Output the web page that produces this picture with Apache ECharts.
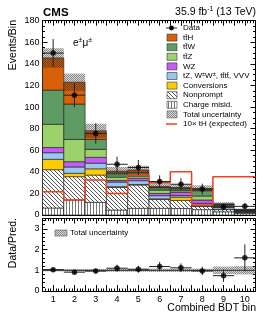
<!DOCTYPE html>
<html><head><meta charset="utf-8">
<script src="https://cdn.jsdelivr.net/npm/echarts@6/dist/echarts.min.js"></script>
<style>html,body{margin:0;padding:0;background:#fff}#c{width:266px;height:322px}</style>
</head><body><div id="c"></div>
<script>
// ---- data ----
const bins = [1,2,3,4,5,6,7,8,9,10];
const chargeMisid = [6.5,13.9,11.7,4.6,6.2,6.2,6.0,5.0,3.0,1.5];
const nonprompt   = [35.5,21.6,25.3,21.0,21.6,8.3,7.5,3.0,2.0,1.0];
const conversions = [9.6,3.1,5.8,0.6,0.5,0.5,3.0,0.5,0.3,0.1];
const rare        = [6.1,5.9,5.2,4.3,3.5,2.9,1.5,2.3,1.7,0.6];
const wz          = [4.8,4.9,5.4,1.5,2.2,2.1,3.0,3.1,1.0,0.4];
const ttz         = [21.5,20.6,7.4,3.1,2.0,3.0,1.5,3.7,1.0,0.6];
const ttw         = [31.7,32.8,9.2,3.7,3.2,2.5,2.0,5.4,0.8,0.6];
const tth         = [29.8,20.2,8.0,1.8,2.5,1.0,1.0,1.5,0.5,0.2];
const totalUnc    = [9,8,6.5,4,4,3,3,3,1.5,1];
const dataVals    = [150,111,75.5,47,44,31,28.5,24,7.5,8];
const dataErr     = [13,11,9.5,7,7,5.8,5.5,5,3,3];
const tH10        = [21.6,13.8,32.4,20,37,29.8,40,9.3,35.5,35.5];
const ratioVals   = [1.03,0.91,0.96,1.1,1.05,1.18,1.12,0.97,0.74,1.6];
const ratioErr    = [0.09,0.09,0.12,0.17,0.17,0.22,0.21,0.2,0.3,0.65];
const ratioUnc    = [0.05,0.05,0.06,0.07,0.07,0.08,0.08,0.08,0.18,0.2];
const yTicksTop   = [0,20,40,60,80,100,120,140,160,180];
const yTicksRatio = [0,1,2,3];

// ---- patterns ----
function pat(w,h,draw){const c=document.createElement('canvas');c.width=w;c.height=h;const g=c.getContext('2d');draw(g);return {image:c,repeat:'repeat'};}
const hatchNP = pat(4,4,g=>{g.fillStyle='#fff';g.fillRect(0,0,4,4);g.fillStyle='#555';for(let i=0;i<4;i++)g.fillRect(i,i,1,1);});
const stripeCM = pat(3,3,g=>{g.fillStyle='#fff';g.fillRect(0,0,3,3);g.fillStyle='#777';g.fillRect(0,0,1,3);});
const crossUnc = pat(2,2,g=>{g.fillStyle='rgba(40,40,40,0.55)';g.fillRect(0,0,1,1);g.fillRect(1,1,1,1);g.fillStyle='rgba(40,40,40,0.18)';g.fillRect(1,0,1,1);g.fillRect(0,1,1,1);});

const fills = [stripeCM, hatchNP, '#ffcc00', '#98c7f2', '#c65bf5', '#9cd26c', '#5e9c64', '#d9600b'];
const comps = [chargeMisid, nonprompt, conversions, rare, wz, ttz, ttw, tth];

const stackData = [];
bins.forEach((b,i)=>{let cum=0;comps.forEach((c,k)=>{stackData.push([b,cum,cum+c[i],k]);cum+=c[i];});});
const totals = bins.map((b,i)=>comps.reduce((s,c)=>s+c[i],0));
const uncData = bins.map((b,i)=>[b,totals[i]-totalUnc[i],totals[i]+totalUnc[i]]);
const ratioUncData = bins.map((b,i)=>[b,1-ratioUnc[i],1+ratioUnc[i]]);
const dataPts = bins.map((b,i)=>[b,dataVals[i],dataErr[i]]);
const ratioPts = bins.map((b,i)=>[b,ratioVals[i],ratioErr[i]]);
const stepData = bins.map((b,i)=>[b-0.5,tH10[i]]).concat([[bins[bins.length-1]+0.5,tH10[tH10.length-1]]]);

const chart = echarts.init(document.getElementById('c'),null,{renderer:'canvas'});
const FONT = 'Liberation Sans';
function xAx(grid,pos,labels){return {type:'value',gridIndex:grid,position:pos,min:0.5,max:10.5,interval:0.5,
  axisLine:{show:true,onZero:false,lineStyle:{color:'#000',width:1}},
  axisTick:{show:true,inside:true,length:pos==='bottom'&&grid===1?6:5,lineStyle:{color:'#000'}},
  minorTick:{show:true,splitNumber:4,length:2.5,lineStyle:{color:'#000'}},
  splitLine:{show:false},
  axisLabel:{show:labels,margin:4,fontFamily:FONT,fontSize:9,color:'#000',formatter:v=>Number.isInteger(v)?String(v):''}};}
function yAx(grid,pos,min,max,iv,labels,minorN){return {type:'value',gridIndex:grid,position:pos,min:min,max:max,interval:iv,
  axisLine:{show:true,onZero:false,lineStyle:{color:'#000',width:1}},
  axisTick:{show:true,inside:true,length:5,lineStyle:{color:'#000'}},
  minorTick:{show:true,splitNumber:minorN,length:2.5,lineStyle:{color:'#000'}},
  splitLine:{show:false},
  axisLabel:{show:labels,margin:3,fontFamily:FONT,fontSize:9,color:'#000',formatter:v=>Number.isInteger(v)?String(v):''}};}

function rectItem(api,x0,x1,y0,y1,style){const p0=api.coord([x0,y1]);const p1=api.coord([x1,y0]);
  return {type:'rect',shape:{x:p0[0],y:p0[1],width:p1[0]-p0[0],height:p1[1]-p0[1]},style:style};}
function errItem(api){const b=api.value(0),v=api.value(1),e=api.value(2);
  const c=api.coord([b,v]),t=api.coord([b,v+e]),d=api.coord([b,v-e]),l=api.coord([b-0.5,v]),r=api.coord([b+0.5,v]);
  const st={stroke:'#222',lineWidth:1};
  return {type:'group',children:[
    {type:'line',shape:{x1:c[0],y1:t[1],x2:c[0],y2:d[1]},style:st},
    {type:'line',shape:{x1:l[0],y1:c[1],x2:r[0],y2:c[1]},style:st}]};}

const legendRows = [
  {t:'Data',k:'data'},
  {t:'t{b|t\u0304}H',k:7},{t:'t{b|t\u0304}W',k:6},{t:'t{b|t\u0304}Z',k:5},{t:'WZ',k:4},
  {t:'tZ, W{s|±}W{s|±}, t{b|t\u0304}t{b|t\u0304}, VVV',k:3},
  {t:'Conversions',k:2},{t:'Nonprompt',k:1},{t:'Charge misid.',k:0},
  {t:'Total uncertainty',k:'unc'},{t:'10× tH (expected)',k:'red'}];
const gEls=[];
legendRows.forEach((r,i)=>{const y=28+9.6*i;
  if(r.k==='data'){gEls.push({type:'line',shape:{x1:166,y1:y,x2:177,y2:y},style:{stroke:'#222',lineWidth:1}});
    gEls.push({type:'circle',shape:{cx:171.5,cy:y,r:2.4},style:{fill:'#000'}});}
  else if(r.k==='red'){gEls.push({type:'line',shape:{x1:166,y1:y,x2:177,y2:y},style:{stroke:'#f0401c',lineWidth:1.5}});}
  else if(r.k==='unc'){gEls.push({type:'rect',shape:{x:167,y:y-3.5,width:10,height:7},style:{fill:crossUnc,stroke:'#555',lineWidth:0.6}});}
  else {gEls.push({type:'rect',shape:{x:167,y:y-3.5,width:10,height:7},style:{fill:fills[r.k],stroke:'#333',lineWidth:0.6}});}
  gEls.push({type:'text',x:183,y:y,style:{text:r.t,fontFamily:FONT,fontSize:8,fill:'#000',verticalAlign:'middle',
    rich:{s:{fontSize:5.5,verticalAlign:'top',padding:[0,0,4,0],fontFamily:FONT},b:{fontSize:8,fontFamily:FONT}}}});
});
gEls.push({type:'text',x:43,y:18.5,style:{text:'CMS',fontFamily:FONT,fontSize:11.5,fontWeight:'bold',fill:'#000',verticalAlign:'bottom'}});
gEls.push({type:'text',x:256,y:18.5,style:{text:'35.9 fb{s|-1} (13 TeV)',fontFamily:FONT,fontSize:10.5,fill:'#000',align:'right',verticalAlign:'bottom',
  rich:{s:{fontSize:7,padding:[0,0,6,0],fontFamily:FONT}}}});
gEls.push({type:'text',x:73,y:43,style:{text:'e{s|±}μ{s|±}',fontFamily:FONT,fontSize:10,fill:'#000',verticalAlign:'middle',
  rich:{s:{fontSize:7,padding:[0,0,6,0],fontFamily:FONT}}}});
gEls.push({type:'text',x:13,y:20,rotation:Math.PI/2,style:{text:'Events/Bin',fontFamily:FONT,fontSize:10.5,fill:'#000',align:'right',verticalAlign:'middle'}});
gEls.push({type:'text',x:13,y:218,rotation:Math.PI/2,style:{text:'Data/Pred.',fontFamily:FONT,fontSize:10.5,fill:'#000',align:'right',verticalAlign:'middle'}});
gEls.push({type:'text',x:256,y:308,style:{text:'Combined BDT bin',fontFamily:FONT,fontSize:10.5,fill:'#000',align:'right',verticalAlign:'middle'}});
gEls.push({type:'rect',shape:{x:55,y:230,width:12,height:6},style:{fill:crossUnc,stroke:'#555',lineWidth:0.6}});
gEls.push({type:'text',x:70,y:233,style:{text:'Total uncertainty',fontFamily:FONT,fontSize:8,fill:'#000',verticalAlign:'middle'}});

chart.setOption({
  animation:false,
  grid:[{left:42.5,top:20.7,width:213,height:194.3},{left:42.5,top:218.5,width:213,height:72.5}],
  xAxis:[xAx(0,'bottom',false),xAx(0,'top',false),xAx(1,'bottom',true),xAx(1,'top',false)],
  yAxis:[yAx(0,'left',yTicksTop[0],yTicksTop[yTicksTop.length-1],20,true,4),yAx(0,'right',0,180,20,false,4),
         yAx(1,'left',yTicksRatio[0],3.5,1,true,5),yAx(1,'right',0,3.5,1,false,5)],
  graphic:{elements:gEls},
  series:[
    {type:'custom',xAxisIndex:0,yAxisIndex:0,data:stackData,encode:{x:0,y:[1,2]},z:2,
     renderItem:(p,api)=>rectItem(api,api.value(0)-0.5,api.value(0)+0.5,api.value(1),api.value(2),
       {fill:fills[api.value(3)],stroke:'#1a1a1a',lineWidth:0.6})},
    {type:'custom',xAxisIndex:0,yAxisIndex:0,data:uncData,encode:{x:0,y:[1,2]},z:3,
     renderItem:(p,api)=>rectItem(api,api.value(0)-0.5,api.value(0)+0.5,api.value(1),api.value(2),{fill:crossUnc})},
    {type:'line',xAxisIndex:0,yAxisIndex:0,data:stepData,step:'end',symbol:'none',z:4,
     lineStyle:{color:'#f0401c',width:1.5}},
    {type:'custom',xAxisIndex:0,yAxisIndex:0,data:dataPts,encode:{x:0,y:1},z:5,renderItem:(p,api)=>errItem(api)},
    {type:'scatter',xAxisIndex:0,yAxisIndex:0,data:dataPts.map(d=>[d[0],d[1]]),symbolSize:5.5,itemStyle:{color:'#000'},z:6},
    {type:'custom',xAxisIndex:2,yAxisIndex:2,data:ratioUncData,encode:{x:0,y:[1,2]},z:2,
     renderItem:(p,api)=>rectItem(api,api.value(0)-0.5,api.value(0)+0.5,api.value(1),api.value(2),{fill:crossUnc})},
    {type:'line',xAxisIndex:2,yAxisIndex:2,data:[[0.5,1],[10.5,1]],symbol:'none',z:3,lineStyle:{color:'#444',width:1.2}},
    {type:'custom',xAxisIndex:2,yAxisIndex:2,data:ratioPts,encode:{x:0,y:1},z:5,renderItem:(p,api)=>errItem(api)},
    {type:'scatter',xAxisIndex:2,yAxisIndex:2,data:ratioPts.map(d=>[d[0],d[1]]),symbolSize:5.5,itemStyle:{color:'#000'},z:6}
  ]
});
</script></body></html>
